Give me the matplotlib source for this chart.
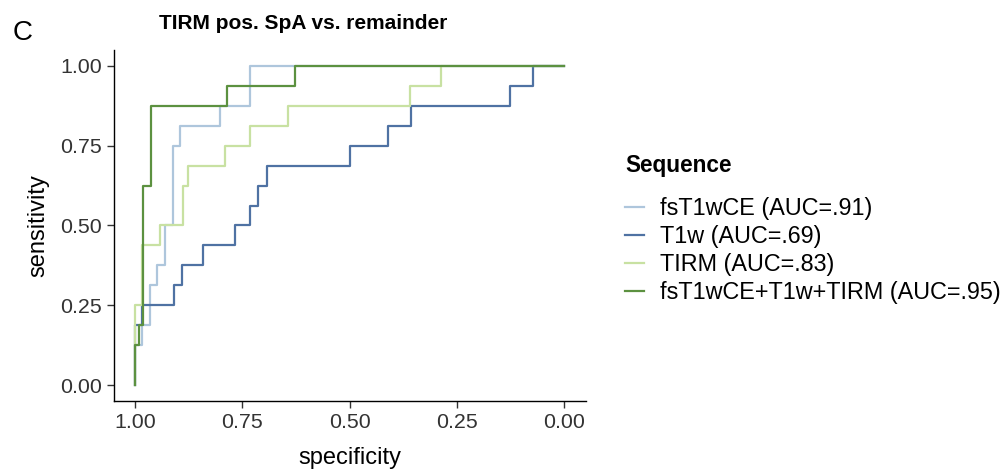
import matplotlib
matplotlib.use("Agg")
import matplotlib.pyplot as plt
import numpy as np

plt.rcParams['font.family'] = ['Liberation Sans', 'DejaVu Sans']

# ROC step curves: specificity at each jump, sensitivity (in 1/16 units) after the jump
fs_spec = [1, 1, 0.983, 0.966, 0.948, 0.930, 0.911, 0.895, 0.802, 0.732, 0]
fs_sens16 = [0, 2, 3, 5, 6, 8, 12, 13, 14, 16, 16]

t1_spec = [1, 1, 0.983, 0.909, 0.891, 0.841, 0.767, 0.732, 0.713, 0.693, 0.500, 0.410, 0.357, 0.126, 0.0716, 0]
t1_sens16 = [0, 3, 4, 5, 6, 7, 8, 9, 10, 11, 12, 13, 14, 15, 16, 16]

tirm_spec = [1, 1, 0.983, 0.942, 0.888, 0.876, 0.790, 0.732, 0.643, 0.359, 0.2875, 0]
tirm_sens16 = [0, 4, 7, 8, 10, 11, 12, 13, 14, 15, 16, 16]

comb_spec = [1, 1, 0.990, 0.981, 0.963, 0.785, 0.627, 0]
comb_sens16 = [0, 2, 3, 10, 14, 15, 16, 16]

labels = ["fsT1wCE (AUC=.91)", "T1w (AUC=.69)", "TIRM (AUC=.83)", "fsT1wCE+T1w+TIRM (AUC=.95)"]
colors = ["#aec6dc", "#4f72a3", "#c8e1a2", "#5c9140"]

ticks = [1.00, 0.75, 0.50, 0.25, 0.00]
tick_labels = ["1.00", "0.75", "0.50", "0.25", "0.00"]

W, H = 1005, 473
fig = plt.figure(figsize=(W / 100, H / 100), dpi=100)
ax = fig.add_axes([113.5 / W, (H - 401) / H, 472 / W, 351 / H])

series = [(fs_spec, fs_sens16), (t1_spec, t1_sens16), (tirm_spec, tirm_sens16), (comb_spec, comb_sens16)]
for (sp, s16), lab, c in zip(series, labels, colors):
    ax.step(sp, np.array(s16) / 16.0, where='post', color=c, lw=1.6, label=lab)

ax.set_xlim(1.05, -0.05)
ax.set_ylim(-0.05, 1.05)
ax.set_xticks(ticks)
ax.set_xticklabels(tick_labels)
ax.set_yticks(ticks)
ax.set_yticklabels(tick_labels)
for s in ['top', 'right']:
    ax.spines[s].set_visible(False)
for s in ['left', 'bottom']:
    ax.spines[s].set_linewidth(1.0)
    ax.spines[s].set_color('black')
ax.tick_params(axis='both', length=5, width=1.0, color='#333333', labelsize=15.4,
               labelcolor='#333333', pad=3.5)

ax.set_xlabel('specificity', fontsize=17, va='center')
ax.xaxis.set_label_coords(0.5, (401 - 458) / 351)
ax.set_ylabel('sensitivity', fontsize=17, va='center')
ax.yaxis.set_label_coords((38 - 113.5) / 472, 0.5)

ax.set_title('TIRM pos. SpA vs. remainder', fontsize=15, fontweight='bold',
             x=(303 - 113.5) / 472, pad=15)

fig.text(13 / W, 1 - 40 / H, 'C', fontsize=20, ha='left', va='baseline')

leg = fig.legend(loc='upper left', bbox_to_anchor=(616 / W, 1 - 145 / H), frameon=False,
                 fontsize=16.8, title='Sequence', alignment='left',
                 title_fontproperties={'weight': 'bold', 'size': 16.3},
                 handlelength=0.8, handletextpad=0.7, labelspacing=0.22, borderaxespad=0)
leg._legend_box.sep = 14
leg._legend_handle_box.pad = 0

fig.savefig('out.png', dpi=100)
